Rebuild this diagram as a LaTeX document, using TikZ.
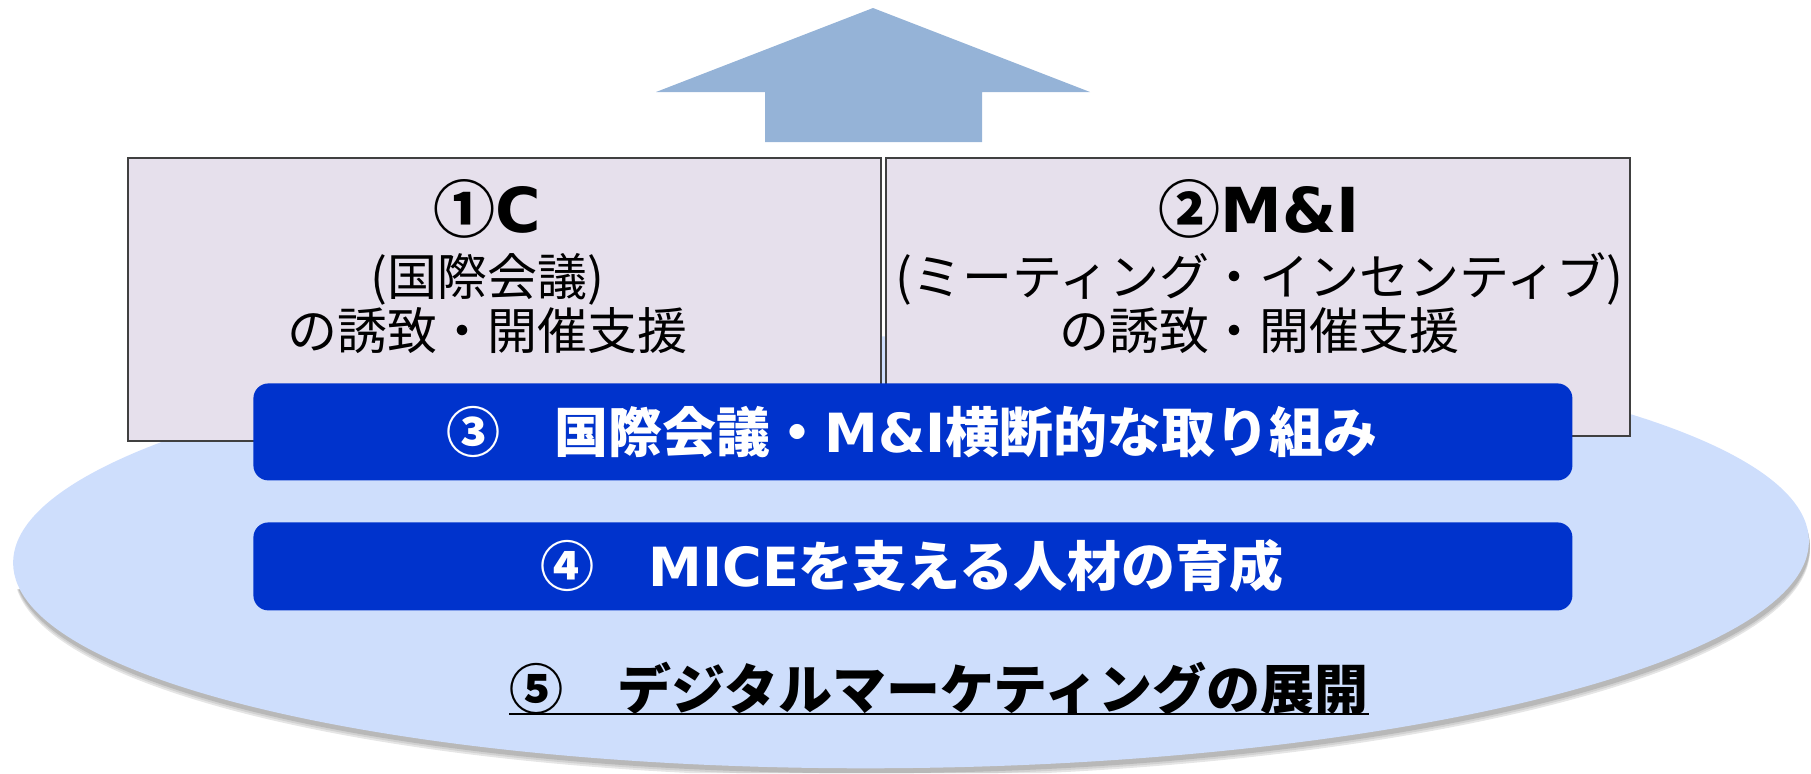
\documentclass[tikz,border=0pt]{standalone}
\usepackage{fontspec}
\setmainfont{Noto Sans CJK JP}
\newfontfamily\lat{DejaVu Sans}
\definecolor{arrowblue}{HTML}{95B3D7}
\definecolor{boxfill}{HTML}{E6E0EC}
\definecolor{boxline}{HTML}{404040}
\definecolor{bandblue}{HTML}{0033CC}
\definecolor{baseblue}{HTML}{CEDEFC}
\begin{document}
\begin{tikzpicture}[x=0.5pt,y=-0.5pt,
  panel/.style={draw=boxline, line width=1pt, fill=boxfill, anchor=north west, inner sep=0},
  band/.style={fill=bandblue, rounded corners=7.5pt, anchor=north west, inner sep=0},
  title/.style={font=\fontsize{31}{36}\selectfont\bfseries, inner sep=0},
  body/.style={font=\fontsize{25}{30}\selectfont, inner sep=0},
  bandtext/.style={font=\fontsize{27}{32}\selectfont\bfseries, text=white, inner sep=0},
  baseshape/.style={shift={(911,552)}, rotate=0.73},
]
\useasboundingbox (0,0) rectangle (1811,773);
% soft shadow under the lower part of the base ellipse
\begin{scope}
  \clip (0,590) -- (1811,530) -- (1811,773) -- (0,773) -- cycle;
  \foreach \dy/\shade in {9/10,7/18,5/28}{
    \fill[black!\shade, shift={(912,552+\dy)}, rotate=0.73] (0,0) ellipse [x radius=898, y radius=216];
  }
\end{scope}
\fill[baseblue, baseshape] (0,0) ellipse [x radius=898, y radius=216];
% arrow
\fill[arrowblue] (873,8) -- (1090,92) -- (982,92) -- (982,142) -- (765,142) -- (765,92) -- (656,92) -- cycle;
% panels
\node[panel, minimum width=376.5pt, minimum height=141.5pt] (boxC) at (127,157) {};
\node[panel, minimum width=372pt, minimum height=139pt] (boxMI) at (885,157) {};
% bands
\node[band, minimum width=659.5pt, minimum height=48.5pt] (band3) at (253,383) {};
\node[band, minimum width=659.5pt, minimum height=44pt] (band4) at (253,522) {};
% texts
\node[title] (c1) at (487,209) {①{\lat C}};
\node[body] (c2) at (487,279) {(国際会議)};
\node[body] (c3) at (487,331) {の誘致・開催支援};
\node[title] (m1) at (1259,209) {②{\lat M\&I}};
\node[body] (m2) at (1259,279) {(ミーティング・インセンティブ)};
\node[body] (m3) at (1259,331) {の誘致・開催支援};
\node[bandtext] (t3) at (912,432) {③　国際会議・{\lat M\&I}横断的な取り組み};
\node[bandtext] (t4) at (912,566) {④　{\lat MICE}を支える人材の育成};
\node[bandtext, text=black] (t5) at (939,688) {⑤　デジタルマーケティングの展開};
\draw[line width=1.3pt] ([yshift=0.5pt]t5.south west) -- ([yshift=0.5pt]t5.south east);
\end{tikzpicture}
\end{document}
